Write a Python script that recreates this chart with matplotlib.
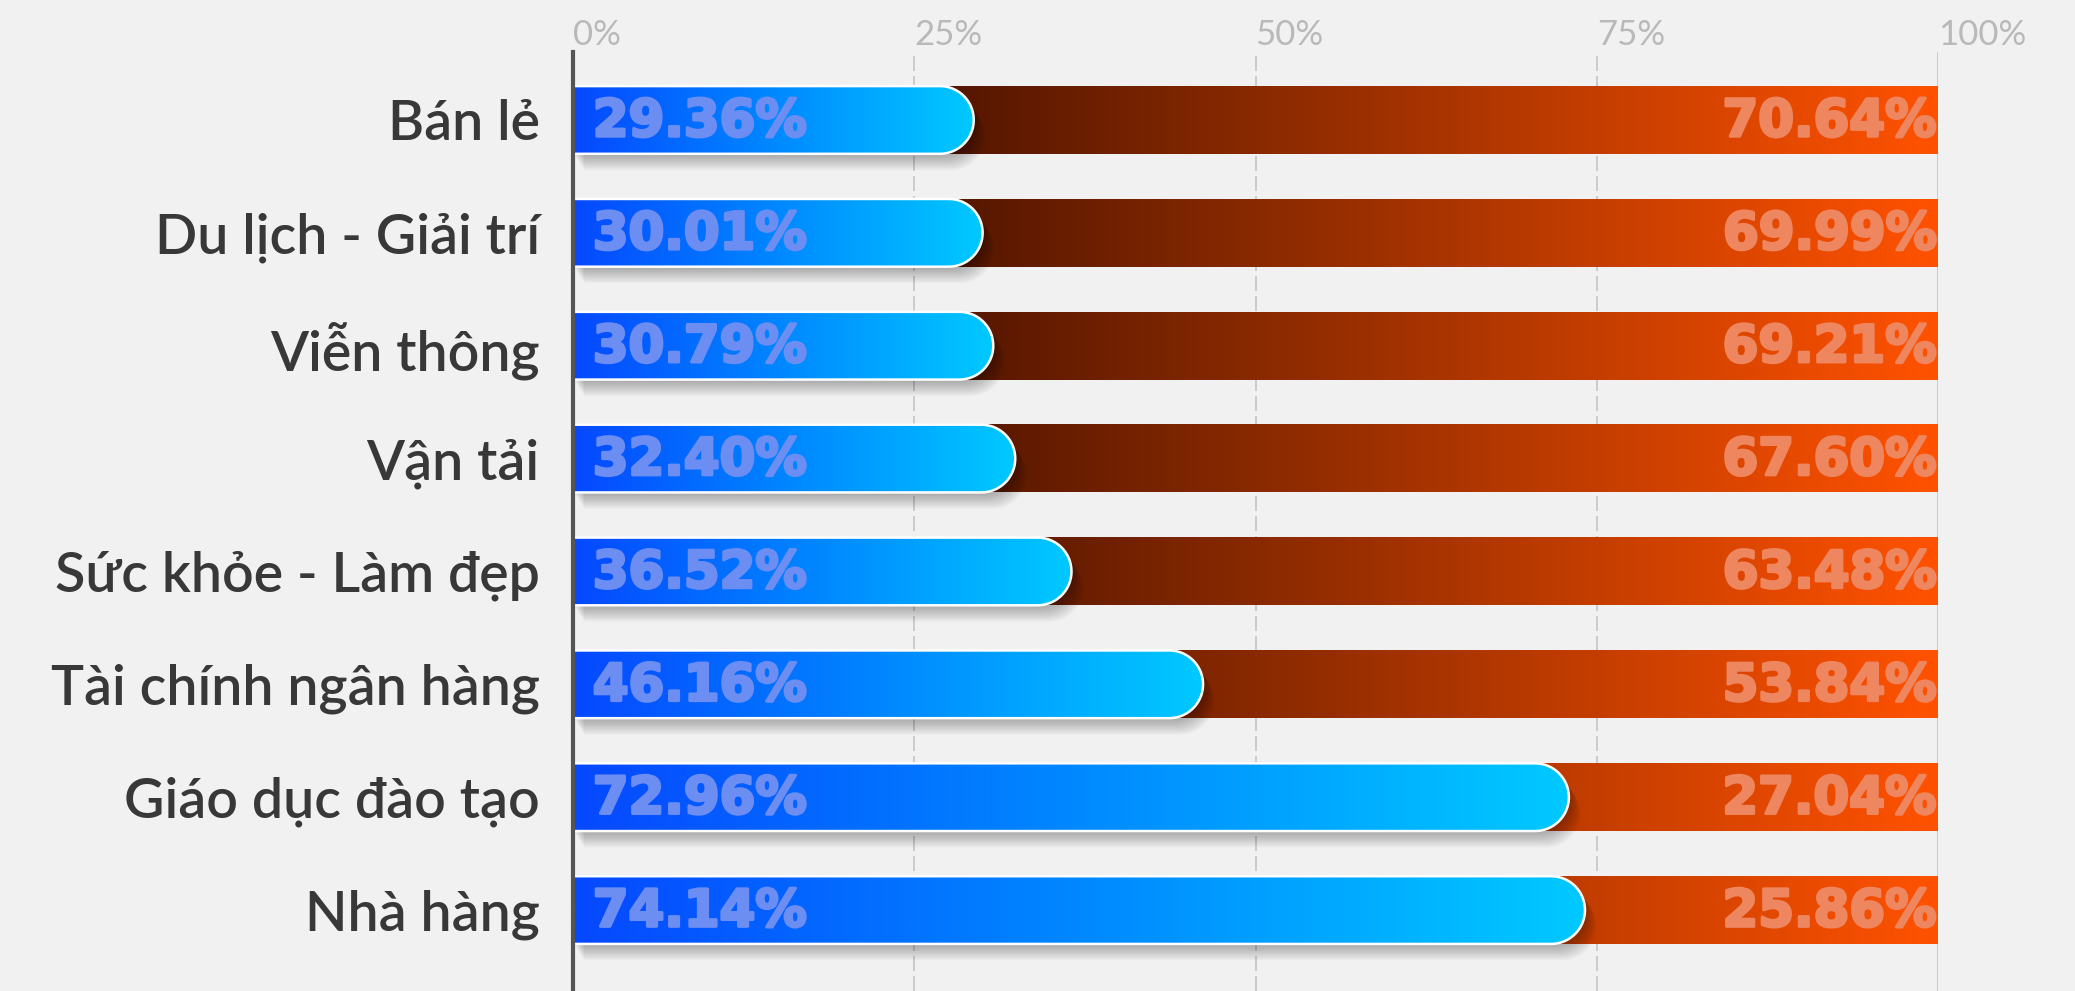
import matplotlib
matplotlib.use('Agg')
import matplotlib.pyplot as plt
import matplotlib.transforms as mtransforms
import matplotlib.patheffects as pe
import numpy as np
from matplotlib.path import Path
from matplotlib.patches import PathPatch
from matplotlib.colors import LinearSegmentedColormap

plt.rcParams['font.family'] = ['Lato', 'DejaVu Sans']

categories = ['Bán lẻ', 'Du lịch - Giải trí', 'Viễn thông', 'Vận tải',
              'Sức khỏe - Làm đẹp', 'Tài chính ngân hàng', 'Giáo dục đào tạo', 'Nhà hàng']
blue_vals = [29.36, 30.01, 30.79, 32.40, 36.52, 46.16, 72.96, 74.14]
red_vals = [70.64, 69.99, 69.21, 67.60, 63.48, 53.84, 27.04, 25.86]
xticks = [0, 25, 50, 75, 100]
xtick_labels = ['0%', '25%', '50%', '75%', '100%']

W, H, DPI = 2075, 991, 100
fig = plt.figure(figsize=(W / DPI, H / DPI), dpi=DPI, facecolor='#f1f1f1')
ax = fig.add_axes([573 / W, 0, (1938 - 573) / W, (991 - 52) / H])
ax.set_facecolor('none')

n = len(categories)
ypos = np.arange(n)
ylim = (n - 1 + 0.717, -0.602)
bh = 0.6

blue_cmap = LinearSegmentedColormap.from_list('b', ['#0648ff', '#0088ff', '#00c9ff'])
red_cmap = LinearSegmentedColormap.from_list('r', ['#130000', '#ff5200'])
grad = np.linspace(0, 1, 512).reshape(1, -1)

# pixel scale so the rounded cap is a true half circle
bbox = ax.get_window_extent()
xpx = bbox.width / 100
ypx = bbox.height / abs(ylim[0] - ylim[1])
ry = bh / 2
rx = ry * ypx / xpx

for g in [25, 50, 75]:
    ax.axvline(g, color='#c4c4c4', lw=1.2, ls=(0, (9, 3)), zorder=0)
ax.axvline(100, color='#c4c4c4', lw=1.2, zorder=0)

val_font = dict(family='DejaVu Sans', fontsize=37, fontweight='bold')

for i, (b, r) in enumerate(zip(blue_vals, red_vals)):
    yc = ypos[i]
    # red part, gradient over whole 0-100 axis
    ax.imshow(grad, extent=(0, b + r, yc + ry, yc - ry), cmap=red_cmap,
              aspect='auto', zorder=1, interpolation='bilinear')

    t = np.linspace(-np.pi / 2, np.pi / 2, 40)
    verts = [(0, yc - ry), (b - rx, yc - ry)]
    verts += list(zip(b - rx + rx * np.cos(t), yc + ry * np.sin(t)))
    verts += [(0, yc + ry), (0, yc - ry)]
    codes = [Path.MOVETO] + [Path.LINETO] * (len(verts) - 2) + [Path.CLOSEPOLY]
    path = Path(verts, codes)

    # soft shadow
    for k in range(1, 10):
        off = mtransforms.ScaledTranslation(k * 0.9 / 72, -k * 1.3 / 72, fig.dpi_scale_trans)
        ax.add_patch(PathPatch(path, facecolor='black', edgecolor='none', alpha=0.035,
                               transform=ax.transData + off, zorder=2))

    patch = PathPatch(path, facecolor='none', edgecolor='none', zorder=3)
    ax.add_patch(patch)
    im = ax.imshow(grad, extent=(0, b, yc + ry, yc - ry), cmap=blue_cmap,
                   aspect='auto', zorder=3, interpolation='bilinear')
    im.set_clip_path(patch)
    ax.add_patch(PathPatch(path, facecolor='none', edgecolor='white', lw=1.8, zorder=4))

    ax.text(1.45, yc + 0.02, f'{b:.2f}%', ha='left', va='center', color='#6c8ef3', zorder=5,
            path_effects=[pe.withStroke(linewidth=2.2, foreground='#6c8ef3')], **val_font)
    ax.text(b + r - 0.1, yc + 0.02, f'{r:.2f}%', ha='right', va='center', color='#ee8660', zorder=5,
            path_effects=[pe.withStroke(linewidth=2.2, foreground='#ee8660')], **val_font)

ax.set_xlim(0, 100)
ax.set_ylim(*ylim)

ax.set_yticks(ypos, categories)
ax.tick_params(axis='y', length=0, pad=24, labelsize=40, labelcolor='#383838')
for lbl in ax.get_yticklabels():
    lbl.set_fontweight('semibold')
ax.xaxis.set_ticks_position('top')
ax.set_xticks(xticks, xtick_labels)
ax.tick_params(axis='x', length=0, pad=1, labelsize=25, labelcolor='#b9b9b9')
for lbl in ax.get_xticklabels():
    lbl.set_ha('left')

for s in ['top', 'right', 'bottom']:
    ax.spines[s].set_visible(False)
ax.spines['left'].set_color('#555555')
ax.spines['left'].set_linewidth(3)
ax.spines['left'].set_zorder(6)

fig.savefig('out.png', dpi=DPI, facecolor=fig.get_facecolor())
